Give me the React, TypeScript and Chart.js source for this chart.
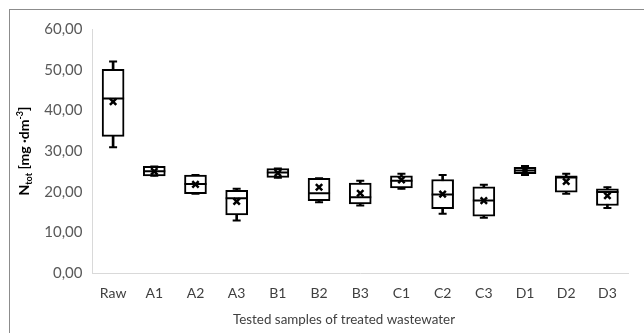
import { useEffect, useRef } from 'react';
import { Chart, registerables } from 'chart.js';

Chart.register(...registerables);

const categories = ['Raw', 'A1', 'A2', 'A3', 'B1', 'B2', 'B3', 'C1', 'C2', 'C3', 'D1', 'D2', 'D3'];
const minValues = [30.9, 23.9, 19.5, 12.9, 23.4, 17.4, 16.6, 20.7, 14.6, 13.6, 24.1, 19.5, 16.0];
const q1Values = [33.6, 23.9, 19.5, 14.3, 23.5, 17.8, 17.0, 20.9, 15.8, 14.0, 24.4, 19.9, 16.6];
const medianValues = [42.9, 25.0, 21.9, 18.4, 24.7, 19.6, 18.6, 22.7, 19.3, 17.8, 25.2, 23.5, 19.9];
const q3Values = [50.1, 26.2, 24.1, 20.3, 25.7, 23.3, 22.1, 23.9, 23.0, 21.2, 26.0, 23.9, 20.7];
const maxValues = [52.0, 26.2, 24.1, 20.7, 25.7, 23.3, 22.7, 24.4, 24.1, 21.7, 26.3, 24.4, 21.1];
const meanValues = [42.1, 25.0, 21.8, 17.6, 24.6, 21.1, 19.6, 22.9, 19.4, 17.8, 25.2, 22.5, 19.0];

const xAxisTitle = 'Tested samples of treated wastewater';
const yTitleParts = [
  { text: 'N', kind: 'normal' },
  { text: 'tot', kind: 'sub' },
  { text: ' [mg ·dm', kind: 'normal' },
  { text: '-3', kind: 'sup' },
  { text: ']', kind: 'normal' },
];

const FONT = 'Lato, "Open Sans", sans-serif';

const titlesPlugin = {
  id: 'richTitles',
  afterDraw(chart: any) {
    const { ctx, chartArea } = chart;
    // y-axis title with subscript / superscript
    const cy = (chartArea.top + chartArea.bottom) / 2;
    ctx.save();
    ctx.translate(24, cy);
    ctx.rotate(-Math.PI / 2);
    ctx.fillStyle = '#000000';
    ctx.textBaseline = 'alphabetic';
    const fontFor = (k: string) => (k === 'normal' ? `bold 14px ${FONT}` : `bold 9px ${FONT}`);
    let total = 0;
    for (const p of yTitleParts) {
      ctx.font = fontFor(p.kind);
      total += ctx.measureText(p.text).width;
    }
    let x = -total / 2;
    for (const p of yTitleParts) {
      ctx.font = fontFor(p.kind);
      const dy = p.kind === 'sub' ? 3 : p.kind === 'sup' ? -6 : 0;
      ctx.fillText(p.text, x, 5 + dy);
      x += ctx.measureText(p.text).width;
    }
    ctx.restore();

    // x-axis title
    ctx.save();
    ctx.font = `13.4px ${FONT}`;
    ctx.fillStyle = '#404040';
    ctx.textAlign = 'center';
    ctx.textBaseline = 'middle';
    ctx.fillText(xAxisTitle, 344, 320);
    ctx.restore();
  },
};

export default function App() {
  const ref = useRef<HTMLCanvasElement | null>(null);

  useEffect(() => {
    if (!ref.current) return;
    const whiskers = categories.map((_, i) => [minValues[i], maxValues[i]]);
    const boxes = categories.map((_, i) => [q1Values[i], q3Values[i]]);
    const chart = new Chart(ref.current, {
      type: 'bar',
      data: {
        labels: categories,
        datasets: [
          {
            type: 'line',
            label: 'mean',
            data: meanValues,
            showLine: false,
            pointStyle: 'crossRot',
            pointRadius: 4.5,
            pointBorderWidth: 2.5,
            pointBorderColor: '#000000',
            pointBackgroundColor: '#000000',
            order: 1,
          } as any,
          {
            type: 'line',
            label: 'median',
            data: medianValues,
            showLine: false,
            pointStyle: 'line',
            pointRadius: 11,
            pointBorderWidth: 2,
            pointBorderColor: '#000000',
            order: 2,
          } as any,
          {
            type: 'line',
            label: 'max',
            data: maxValues,
            showLine: false,
            pointStyle: 'line',
            pointRadius: 4,
            pointBorderWidth: 2,
            pointBorderColor: '#000000',
            order: 2,
          } as any,
          {
            type: 'line',
            label: 'min',
            data: minValues,
            showLine: false,
            pointStyle: 'line',
            pointRadius: 4,
            pointBorderWidth: 2,
            pointBorderColor: '#000000',
            order: 2,
          } as any,
          {
            type: 'bar',
            label: 'box',
            data: boxes,
            backgroundColor: '#ffffff',
            borderColor: '#000000',
            borderWidth: 2,
            borderSkipped: false,
            barThickness: 22,
            grouped: false,
            order: 4,
          } as any,
          {
            type: 'bar',
            label: 'whisker',
            data: whiskers,
            backgroundColor: '#000000',
            borderWidth: 0,
            barThickness: 2,
            grouped: false,
            order: 5,
          } as any,
        ],
      },
      options: {
        responsive: false,
        animation: false,
        layout: { padding: { top: 29, right: 16, bottom: 3, left: 0 } },
        plugins: {
          legend: { display: false },
          tooltip: { enabled: false },
        },
        scales: {
          x: {
            offset: true,
            grid: { color: 'rgba(0,0,0,0)', drawTicks: false },
            border: { color: '#d9d9d9', width: 1 },
            ticks: { color: '#404040', font: { family: FONT, size: 14 }, padding: 12 },
            afterFit: (s: any) => {
              s.height = 57;
            },
          },
          y: {
            min: 0,
            max: 60,
            ticks: {
              stepSize: 10,
              color: '#595959',
              font: { family: FONT, size: 15 },
              padding: 10,
              callback: (v: any) => Number(v).toFixed(2).replace('.', ','),
            },
            grid: { color: 'rgba(0,0,0,0)', drawTicks: false },
            border: { color: '#d9d9d9', width: 1 },
            afterFit: (s: any) => {
              s.width = 92.5;
            },
          },
        },
      },
      plugins: [titlesPlugin],
    } as any);
    return () => chart.destroy();
  }, []);

  return (
    <div style={{ position: 'fixed', left: 0, top: 0, width: 644, height: 333, background: '#ffffff' }}>
      <canvas ref={ref} width={644} height={333} style={{ position: 'absolute', left: 0, top: 0 }} />
      <div
        style={{
          position: 'absolute',
          left: 9,
          top: 9,
          width: 700,
          height: 400,
          borderLeft: '1px solid #8c8c8c',
          borderTop: '1px solid #8c8c8c',
          pointerEvents: 'none',
        }}
      />
    </div>
  );
}
